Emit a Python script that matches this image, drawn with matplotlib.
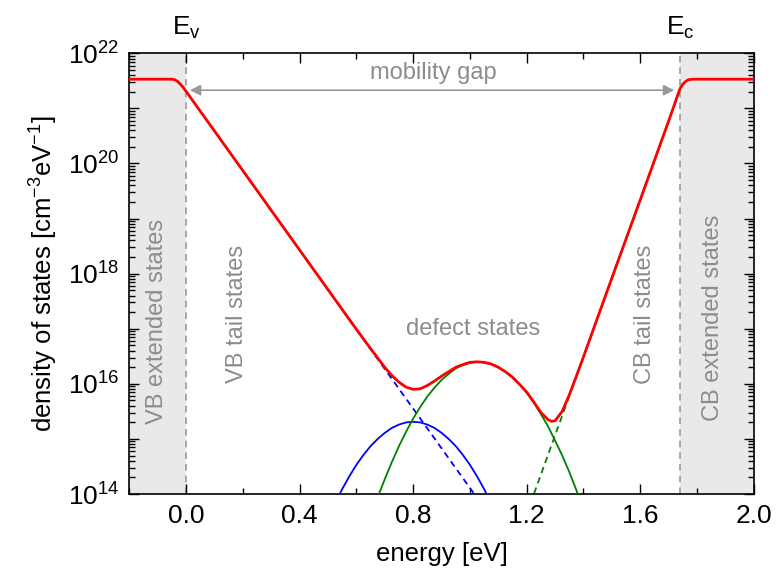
import numpy as np
import matplotlib
matplotlib.use('Agg')
import matplotlib.pyplot as plt
from matplotlib.ticker import LogLocator, FuncFormatter, MultipleLocator
import matplotlib.transforms as mtransforms

plt.rcParams['font.family'] = ['Liberation Sans', 'DejaVu Sans']
plt.rcParams['mathtext.fontset'] = 'custom'
plt.rcParams['mathtext.rm'] = 'Liberation Sans'
plt.rcParams['mathtext.it'] = 'Liberation Sans:italic'
plt.rcParams['mathtext.bf'] = 'Liberation Sans:bold'

# band edges [eV]
E_v = 0.0
E_c = 1.74

# total density of states (log10 of cm^-3 eV^-1)
energy_total = [-0.2, -0.05, -0.04, -0.03, -0.02, -0.01, 0.0, 0.2, 0.4, 0.6,
                0.65, 0.7, 0.725, 0.75, 0.775, 0.8, 0.825, 0.85, 0.875, 0.9,
                0.925, 0.95, 0.975, 1.0, 1.025, 1.05, 1.075, 1.1, 1.125, 1.15,
                1.175, 1.2, 1.225, 1.25, 1.275, 1.2875, 1.3, 1.325, 1.35, 1.375,
                1.4, 1.5, 1.6, 1.7, 1.74, 1.75, 1.76, 1.77, 1.785, 2.0]
log_total = [21.53, 21.53, 21.52, 21.49, 21.44, 21.38, 21.31, 19.87, 18.43, 16.99,
             16.64, 16.30, 16.15, 16.03, 15.94, 15.90, 15.91, 15.97, 16.05, 16.14,
             16.22, 16.30, 16.35, 16.39, 16.40, 16.39, 16.36, 16.30, 16.22, 16.12,
             15.99, 15.85, 15.67, 15.48, 15.35, 15.32, 15.33, 15.50, 15.80, 16.14,
             16.49, 17.92, 19.34, 20.77, 21.36, 21.44, 21.49, 21.52, 21.53, 21.53]

# donor-like defect gaussian (blue)
energy_blue = [0.525, 0.55, 0.575, 0.6, 0.625, 0.65, 0.675, 0.7, 0.725, 0.75, 0.775, 0.8,
               0.825, 0.85, 0.875, 0.9, 0.925, 0.95, 0.975, 1.0, 1.025, 1.05, 1.075]
log_blue = [13.83, 14.09, 14.32, 14.53, 14.71, 14.87, 15.00, 15.11, 15.20, 15.26, 15.30, 15.31,
            15.30, 15.26, 15.20, 15.11, 15.00, 14.87, 14.71, 14.53, 14.32, 14.09, 13.83]

# acceptor-like defect gaussian (green)
energy_green = [0.675, 0.7, 0.725, 0.75, 0.775, 0.8, 0.825, 0.85, 0.875, 0.9,
                0.925, 0.95, 0.975, 1.0, 1.025, 1.05, 1.075, 1.1, 1.125, 1.15,
                1.175, 1.2, 1.225, 1.25, 1.275, 1.3, 1.325, 1.35, 1.375, 1.4]
log_green = [13.94, 14.27, 14.58, 14.87, 15.13, 15.37, 15.58, 15.77, 15.93, 16.07,
             16.18, 16.28, 16.34, 16.38, 16.40, 16.39, 16.36, 16.30, 16.22, 16.12,
             15.99, 15.84, 15.66, 15.45, 15.23, 14.97, 14.70, 14.40, 14.07, 13.72]

# exponential band tails (dashed)
energy_vb_tail = [0.0, 1.05]
log_vb_tail = [21.31, 13.75]
energy_cb_tail = [1.2, 1.74]
log_cb_tail = [13.64, 21.34]

text_gray = '#8c8c8c'
fs_tick = 19
fs_label = 18.5
fs_text = 17

fig = plt.figure(figsize=(7.76, 5.70), dpi=100)
ax = fig.add_axes([0.1666, 0.1333, 0.8048, 0.7732])

# extended-state regions
ax.axvspan(-0.2, E_v, color='#e9e9e9', zorder=0, lw=0)
ax.axvspan(E_c, 2.0, color='#e9e9e9', zorder=0, lw=0)
ax.axvline(E_v, color='#999999', ls=(0, (4, 3)), lw=1.2, zorder=1)
ax.axvline(E_c, color='#999999', ls=(0, (4, 3)), lw=1.2, zorder=1)

ax.plot(energy_vb_tail, 10 ** np.array(log_vb_tail), color='#0000ff', lw=1.3, ls=(0, (3.5, 2.5)), zorder=2)
ax.plot(energy_cb_tail, 10 ** np.array(log_cb_tail), color='#008000', lw=1.3, ls=(0, (3.5, 2.5)), zorder=2)
ax.plot(energy_blue, 10 ** np.array(log_blue), color='#0000ff', lw=1.3, zorder=3)
ax.plot(energy_green, 10 ** np.array(log_green), color='#008000', lw=1.3, zorder=3)
ax.plot(energy_total, 10 ** np.array(log_total), color='#ff0000', lw=2.0, zorder=4,
        solid_joinstyle='round')

ax.set_yscale('log')
ax.set_xlim(-0.2, 2.0)
ax.set_ylim(1e14, 1e22)

# mobility gap arrow
ax.annotate('', xy=(0.013, 10 ** 21.33), xytext=(1.72, 10 ** 21.33),
            arrowprops=dict(arrowstyle='<|-|>', color='#999999', lw=1.2,
                            mutation_scale=16, shrinkA=0, shrinkB=0))
ax.text(0.87, 10 ** 21.64, 'mobility gap', color=text_gray, fontsize=fs_text,
        ha='center', va='center')

ax.text(-0.103, 10 ** 17.13, 'VB extended states', color=text_gray, fontsize=fs_text,
        rotation=90, ha='center', va='center')
ax.text(0.178, 10 ** 17.26, 'VB tail states', color=text_gray, fontsize=fs_text,
        rotation=90, ha='center', va='center')
ax.text(1.616, 10 ** 17.26, 'CB tail states', color=text_gray, fontsize=fs_text,
        rotation=90, ha='center', va='center')
ax.text(1.857, 10 ** 17.2, 'CB extended states', color=text_gray, fontsize=fs_text,
        rotation=90, ha='center', va='center')
ax.text(1.012, 10 ** 16.99, 'defect states', color=text_gray, fontsize=fs_text,
        ha='center', va='center')

# band edge labels above the frame
trans = mtransforms.blended_transform_factory(ax.transData, ax.transAxes)
for xe, lab in [(E_v, r'E$_\mathrm{v}$'), (E_c, r'E$_\mathrm{c}$')]:
    ax.annotate(lab, xy=(xe, 1.0), xycoords=trans, xytext=(0, 13),
                textcoords='offset points', ha='center', va='baseline', fontsize=19)

# ticks
ax.xaxis.set_major_locator(MultipleLocator(0.4))
ax.xaxis.set_minor_locator(MultipleLocator(0.2))
ax.xaxis.set_major_formatter(FuncFormatter(lambda v, _: f'{v:.1f}'))
ax.yaxis.set_major_locator(LogLocator(base=10, numticks=20))
ax.yaxis.set_minor_locator(LogLocator(base=10, subs=np.arange(2, 10), numticks=20))


def y_fmt(v, _):
    p = int(round(np.log10(v)))
    return rf'$10^{{{p}}}$' if p % 2 == 0 else ''


ax.yaxis.set_major_formatter(FuncFormatter(y_fmt))
ax.tick_params(which='both', direction='in', top=True, right=True, width=1.0)
ax.tick_params(which='major', length=7, labelsize=fs_tick, pad=7)
ax.tick_params(which='minor', length=4)
for s in ax.spines.values():
    s.set_linewidth(1.2)

ax.set_xlabel('energy [eV]', fontsize=fs_label, labelpad=10)
ax.set_ylabel(r'density of states [cm$^{-3}$eV$^{-1}$]', fontsize=fs_label, labelpad=6)

fig.savefig('out.png', dpi=100)
